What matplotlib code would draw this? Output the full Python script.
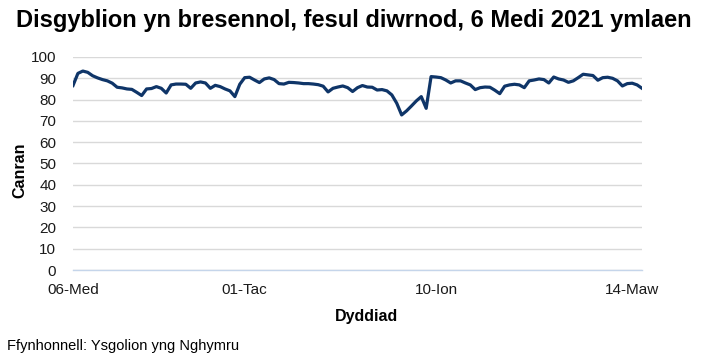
import matplotlib.pyplot as plt

plt.rcParams['font.family'] = ['Liberation Sans', 'DejaVu Sans']

# attendance percentage per school day
attendance = [
    86.6, 92.3, 93.4, 92.8, 91.2, 90.2, 89.4, 88.8, 87.7, 85.8,
    85.5, 85.0, 84.8, 83.4, 81.9, 85.0, 85.2, 86.1, 85.3, 83.1,
    86.9, 87.3, 87.3, 87.2, 85.3, 87.8, 88.3, 87.8, 85.3, 86.7,
    86.1, 85.0, 84.1, 81.4, 87.2, 90.3, 90.5, 89.2, 88.0, 89.7,
    90.2, 89.4, 87.5, 87.3, 88.1, 88.0, 87.8, 87.5, 87.5, 87.3,
    87.0, 86.3, 83.6, 85.3, 85.9, 86.4, 85.6, 83.8, 85.6, 86.6,
    85.9, 85.8, 84.5, 84.7, 84.1, 82.2, 78.3, 72.8, 74.7, 77.0,
    79.4, 81.4, 75.9, 90.8, 90.6, 90.3, 89.2, 87.8, 88.8, 88.8,
    87.8, 86.9, 84.7, 85.6, 85.9, 85.8, 84.4, 82.8, 86.3, 86.9,
    87.2, 86.9, 85.6, 88.8, 89.2, 89.7, 89.4, 87.8, 90.6, 89.7,
    89.2, 88.1, 88.8, 90.3, 91.9, 91.6, 91.3, 89.1, 90.3, 90.5,
    90.0, 88.8, 86.4, 87.5, 87.7, 86.9, 85.3,
]
tick_idx = [0, 35, 74, 114]
tick_labels = ['06-Med', '01-Tac', '10-Ion', '14-Maw']
y_ticks = list(range(0, 101, 10))

fig = plt.figure(figsize=(7.07, 3.63), dpi=100)
ax = fig.add_axes([73 / 707, 1 - 270 / 363, (642 - 73) / 707, (270 - 57) / 363])

ax.plot(range(len(attendance)), attendance, color='#0f3568', linewidth=2.3,
        solid_joinstyle='round', zorder=3)

ax.set_xlim(0, len(attendance) - 1)
ax.set_ylim(0, 100)
ax.set_yticks(y_ticks)
ax.set_xticks(tick_idx)
ax.set_xticklabels(tick_labels)
ax.grid(axis='y', color='#d9d9d9', linewidth=1)
ax.set_axisbelow(True)
for s in ['top', 'right', 'left']:
    ax.spines[s].set_visible(False)
ax.spines['bottom'].set_color('#c5d5ea')
ax.spines['bottom'].set_linewidth(1)
ax.tick_params(axis='both', length=0, labelsize=11, colors='#1a1a1a')
ax.tick_params(axis='x', pad=9)
ax.tick_params(axis='y', pad=12)

fig.text(354 / 707, 1 - 21 / 363, 'Disgyblion yn bresennol, fesul diwrnod, 6 Medi 2021 ymlaen',
         ha='center', va='center', fontsize=17, fontweight='bold')
fig.text(20 / 707, 1 - 170 / 363, 'Canran', rotation=90, ha='center', va='center',
         fontsize=11.5, fontweight='bold')
fig.text(366 / 707, 1 - 317 / 363, 'Dyddiad', ha='center', va='center',
         fontsize=11.5, fontweight='bold')
fig.text(7 / 707, 1 - 346 / 363, 'Ffynhonnell: Ysgolion yng Nghymru', ha='left',
         va='center', fontsize=10.5)

fig.savefig('out.png', dpi=100)
